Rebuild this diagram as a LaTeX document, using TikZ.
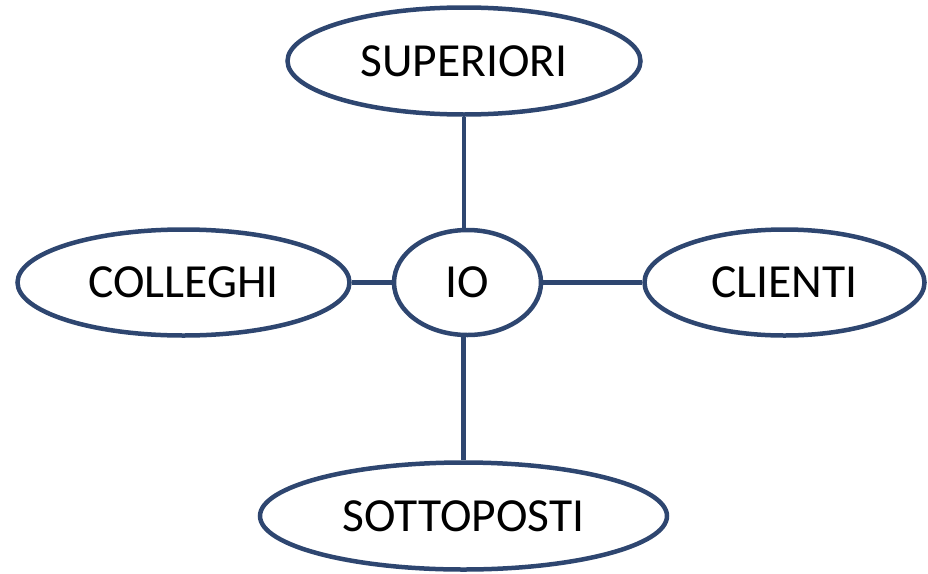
\documentclass[tikz,border=0pt]{standalone}
\usepackage{fontspec}
\setmainfont{Carlito}
\usetikzlibrary{shapes.geometric}
\definecolor{rolecol}{HTML}{2E4670}
\tikzset{
	role/.style={ellipse, draw=rolecol, line width=4.5pt, fill=white,
		inner sep=0pt, font=\fontsize{47.5}{52}\selectfont},
	link/.style={draw=rolecol, line width=4.5pt}
}

\begin{document}
\begin{tikzpicture}[x=1pt,y=-1pt]
	\useasboundingbox (0,0) rectangle (928,573);
	\foreach \N/\X/\Y/\W/\H/\T in {sup/464/61/353/107/SUPERIORI,
		io/467.5/282.5/147/105/IO, col/183.5/282.5/332/106/COLLEGHI,
		cli/784.5/282.5/280/106/CLIENTI, sot/463.5/516/407/107/SOTTOPOSTI}
	{\node[role, minimum width=\W pt, minimum height=\H pt] (\N) at (\X,\Y) {\T};}
	\draw[link] (sup) -- (sup |- io.north);
	\draw[link] (col) -- (io);
	\draw[link] (io) -- (cli);
	\draw[link] (sot |- io.south) -- (sot);
\end{tikzpicture}
\end{document}
